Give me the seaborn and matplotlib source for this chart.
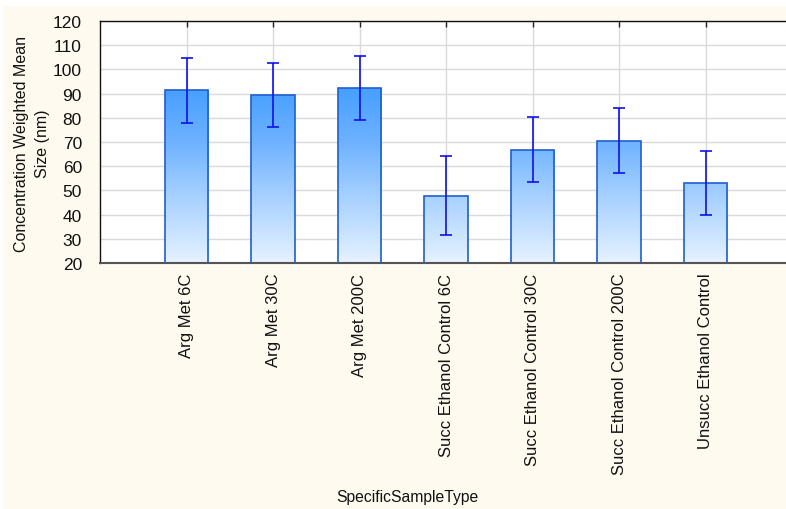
import numpy as np
import matplotlib
matplotlib.use("Agg")
import matplotlib.pyplot as plt
from matplotlib.colors import LinearSegmentedColormap
from matplotlib.patches import Rectangle
import pandas as pd
import seaborn as sns

# Sample groups and their concentration-weighted mean sizes (nm) with error half-widths
categories = ["Arg Met 6C", "Arg Met 30C", "Arg Met 200C", "Succ Ethanol Control 6C",
              "Succ Ethanol Control 30C", "Succ Ethanol Control 200C", "Unsucc Ethanol Control"]
mean_size = [91.3, 89.4, 92.3, 47.8, 66.9, 70.6, 53.0]
err_half = [13.3, 13.3, 13.3, 16.3, 13.3, 13.3, 13.3]
y_ticks = [20, 30, 40, 50, 60, 70, 80, 90, 100, 110, 120]

df = pd.DataFrame({"SpecificSampleType": categories, "size": mean_size})

sns.set_theme(style="white")
plt.rcParams["font.family"] = ["Liberation Sans", "DejaVu Sans"]

bg = "#FEFAEF"
fig = plt.figure(figsize=(7.86, 5.10), dpi=100, facecolor=bg)
# thin white frame along the top and left edges
fig.patches.append(Rectangle((0, 1 - 7 / 510), 1, 7 / 510, transform=fig.transFigure,
                             facecolor="white", edgecolor="none", zorder=0))
fig.patches.append(Rectangle((0, 0), 3 / 786, 1, transform=fig.transFigure,
                             facecolor="white", edgecolor="none", zorder=0))

ax = fig.add_axes([100 / 786, 1 - 264 / 510, 1 - 100 / 786, (264 - 22) / 510])
ax.set_facecolor("white")

sns.barplot(data=df, x="SpecificSampleType", y="size", width=0.5, ax=ax,
            color="#4DA3FF", edgecolor="#1F5FD0", linewidth=1.2, zorder=3)

XLIM = (-1, 6.93)
YLIM = (20, 120)

# vertical gradient fill for each bar, spanning the full value range
cmap = LinearSegmentedColormap.from_list(
    "bluegrad",
    [(0.0, "#E6F2FF"), (0.28, "#A5D0FF"), (0.5, "#6EB2FF"), (0.71, "#48A0FF"), (1.0, "#3C97FF")])
grad = np.linspace(0, 1, 256).reshape(-1, 1)
for patch in ax.patches:
    patch.set_facecolor("none")
    im = ax.imshow(grad, cmap=cmap, origin="lower", aspect="auto",
                   extent=[XLIM[0], XLIM[1], YLIM[0], YLIM[1]], zorder=2.5)
    im.set_clip_path(patch)
ax.set_xlim(*XLIM)
ax.set_ylim(*YLIM)

ax.errorbar(np.arange(len(categories)), mean_size, yerr=err_half, fmt="none",
            ecolor="#1010F0", elinewidth=1.2, capsize=4, capthick=1.2, zorder=4)

ax.set_yticks(y_ticks)
ax.set_yticklabels([str(v) for v in y_ticks], fontsize=12.5, color="#111111")
ax.set_xticks(range(len(categories)))
ax.set_xticklabels(categories, rotation=90, fontsize=12, color="#111111")
ax.tick_params(axis="x", which="both", direction="in", top=True, bottom=True,
               length=4, width=1, color="#222222", pad=7)
ax.tick_params(axis="y", which="both", left=False, pad=7)

ax.grid(True, color="#DADADA", linewidth=1, zorder=0)
ax.set_axisbelow(True)

for side in ["top", "left"]:
    ax.spines[side].set_color("#111111")
    ax.spines[side].set_linewidth(1)
ax.spines["bottom"].set_color("#555555")
ax.spines["bottom"].set_linewidth(1.5)
ax.spines["right"].set_visible(False)

ax.set_xlabel("")
ax.set_ylabel("")
fig.text(407 / 786, 1 - 498 / 510, "SpecificSampleType", fontsize=11.3, color="#111111",
         ha="center", va="center")
fig.text(32 / 786, 1 - 144 / 510, "Concentration Weighted Mean\nSize (nm)", fontsize=11.5,
         color="#111111", rotation=90, ha="center", va="center", linespacing=1.5)

fig.savefig("out.png", dpi=100, facecolor=bg)
